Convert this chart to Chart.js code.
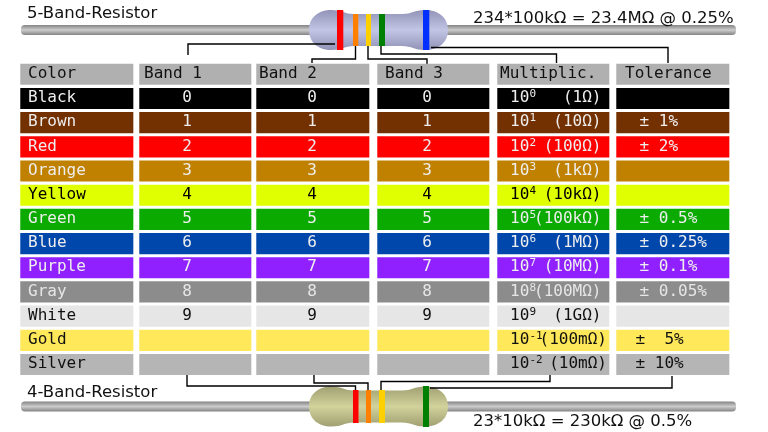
<!DOCTYPE html>
<html>
<head>
<meta charset="utf-8">
<style>
body { margin: 0; background: #fff; }
canvas { display: block; }
</style>
<script src="https://cdn.jsdelivr.net/npm/chart.js@4"></script>
</head>
<body>
<canvas id="myChart" width="768" height="432"></canvas>
<script>
// table contents
const rowNames = ['Color', 'Black', 'Brown', 'Red', 'Orange', 'Yellow', 'Green', 'Blue', 'Purple', 'Gray', 'White', 'Gold', 'Silver'];
const rowColors = ['#b0b0b0', '#000000', '#733000', '#ff0000', '#c08000', '#e0ff00', '#0aaa00', '#0047ab', '#9020ff', '#8c8c8c', '#e6e6e6', '#ffe85a', '#b5b5b5'];
const textColors = ['#111', '#eee', '#eee', '#eee', '#eee', '#000', '#eee', '#eee', '#eee', '#e6e6e6', '#111', '#111', '#111'];
const columnNames = ['Color', 'Band 1', 'Band 2', 'Band 3', 'Multiplic.', 'Tolerance'];
const bandDigits = ['0', '1', '2', '3', '4', '5', '6', '7', '8', '9', '', ''];
const multExponents = ['0', '1', '2', '3', '4', '5', '6', '7', '8', '9', '-1', '-2'];
const multValues = ['(1Ω)', '(10Ω)', '(100Ω)', '(1kΩ)', '(10kΩ)', '(100kΩ)', '(1MΩ)', '(10MΩ)', '(100MΩ)', '(1GΩ)', '(100mΩ)', '(10mΩ)'];
const tolerances = ['', '± 1%', '± 2%', '', '', '± 0.5%', '± 0.25%', '± 0.1%', '± 0.05%', '', '±  5%', '± 10%'];

// layout, in canvas pixels (the x scale and the yPx scale both run 1:1 with the canvas)
const colLeft = [20.6, 139.6, 256.6, 377.6, 497.6, 616.6];
const colRight = [133, 251, 369, 489, 609, 729];
const headerX = [28, 144, 259, 385, 500, 625];
const digitX = [187, 312, 427];
const plotTop = 62.2;
const plotBottom = 376.6;

const connectors = [
	[[335, 44], [188, 44], [188, 55]],
	[[355.5, 46], [355.5, 59], [312, 59], [312, 63]],
	[[368, 46], [368, 59], [427, 59], [427, 64]],
	[[381, 46], [381, 54], [556.5, 54], [556.5, 63]],
	[[431, 47.5], [668, 47.5], [668, 63]],
	[[187, 375], [187, 386], [355.5, 386], [355.5, 390]],
	[[314, 375], [314, 383], [368, 383], [368, 390]],
	[[381, 390], [381, 381.5], [550, 381.5], [550, 375]],
	[[430, 388], [672, 388], [672, 376]]
];

const resistors = [
	{ cy: 30, edge: '#9293b8', mid: '#c2c6e4', bands: [[337, 343.3, '#ff0000', 20], [353, 358.3, '#ff8000', 16], [366, 371, '#ffd000', 16], [379, 385, '#008000', 16], [423, 429.3, '#0030ff', 20]] },
	{ cy: 406.5, edge: '#a0a072', mid: '#d2d29c', bands: [[353, 358.5, '#ff0000', 16.5], [366, 371, '#ff8000', 16.5], [379, 385, '#ffd000', 16.5], [423, 429, '#008000', 20.5]] }
];

const labels = [
	{ text: '5-Band-Resistor', x: 27, y: 18 },
	{ text: '234*100kΩ = 23.4MΩ @ 0.25%', x: 473, y: 23 },
	{ text: '4-Band-Resistor', x: 27, y: 397 },
	{ text: '23*10kΩ = 230kΩ @ 0.5%', x: 473, y: 426 }
];

function drawBody(ctx, px, py, cy) {
	const p = (x, dy) => [px(x), py(cy + dy)];
	ctx.beginPath();
	ctx.moveTo(...p(309, 0));
	ctx.bezierCurveTo(...p(309, -13), ...p(319, -20), ...p(331, -20));
	ctx.bezierCurveTo(...p(343, -20), ...p(344, -16), ...p(354, -16));
	ctx.lineTo(...p(402, -16));
	ctx.bezierCurveTo(...p(412, -16), ...p(414, -20), ...p(425, -20));
	ctx.bezierCurveTo(...p(438, -20), ...p(448, -13), ...p(448, 0));
	ctx.bezierCurveTo(...p(448, 13), ...p(438, 20), ...p(425, 20));
	ctx.bezierCurveTo(...p(414, 20), ...p(412, 16), ...p(402, 16));
	ctx.lineTo(...p(354, 16));
	ctx.bezierCurveTo(...p(344, 16), ...p(343, 20), ...p(331, 20));
	ctx.bezierCurveTo(...p(319, 20), ...p(309, 13), ...p(309, 0));
	ctx.closePath();
}

const resistorPlugin = {
	id: 'resistorPlugin',
	beforeDatasetsDraw(chart) {
		const ctx = chart.ctx;
		const px = (v) => chart.scales.x.getPixelForValue(v);
		const py = (v) => chart.scales.yPx.getPixelForValue(v);
		ctx.save();
		resistors.forEach((r) => {
			// lead wire
			let g = ctx.createLinearGradient(0, py(r.cy - 5.5), 0, py(r.cy + 5.5));
			g.addColorStop(0, '#7c7c7c');
			g.addColorStop(0.5, '#cccccc');
			g.addColorStop(1, '#7c7c7c');
			ctx.fillStyle = g;
			ctx.beginPath();
			ctx.roundRect(px(21), py(r.cy - 5), px(736) - px(21), py(r.cy + 5) - py(r.cy - 5), 4);
			ctx.fill();
			// body
			g = ctx.createLinearGradient(0, py(r.cy - 20), 0, py(r.cy + 20));
			g.addColorStop(0, r.edge);
			g.addColorStop(0.5, r.mid);
			g.addColorStop(1, r.edge);
			ctx.fillStyle = g;
			drawBody(ctx, px, py, r.cy);
			ctx.fill();
			// colour bands
			r.bands.forEach((b) => {
				ctx.fillStyle = b[2];
				ctx.fillRect(px(b[0]), py(r.cy - b[3]), px(b[1]) - px(b[0]), py(r.cy + b[3]) - py(r.cy - b[3]));
			});
		});
		ctx.restore();
	}
};

const textPlugin = {
	id: 'textPlugin',
	afterDatasetsDraw(chart) {
		const ctx = chart.ctx;
		const px = (v) => chart.scales.x.getPixelForValue(v);
		const rowY = (i) => chart.scales.y.getPixelForValue(i) + 3.7;
		const mono = '16px "DejaVu Sans Mono"';
		ctx.save();
		ctx.textBaseline = 'alphabetic';
		ctx.font = '16.5px "DejaVu Sans"';
		ctx.fillStyle = '#111';
		labels.forEach((l) => ctx.fillText(l.text, px(l.x), chart.scales.yPx.getPixelForValue(l.y)));

		ctx.font = mono;
		columnNames.forEach((name, c) => ctx.fillText(name, px(headerX[c]), rowY(0)));

		for (let i = 0; i < 12; i++) {
			const y = rowY(i + 1);
			ctx.fillStyle = textColors[i + 1];
			ctx.textAlign = 'left';
			ctx.font = mono;
			ctx.fillText(rowNames[i + 1], px(28), y);
			ctx.textAlign = 'center';
			digitX.forEach((x) => ctx.fillText(bandDigits[i], px(x), y));
			ctx.textAlign = 'left';
			ctx.fillText('10', px(510), y);
			ctx.fillText(tolerances[i], px(i >= 10 ? 635.5 : 639.5), y);
			ctx.textAlign = 'right';
			ctx.fillText(multValues[i], px(i >= 10 ? 607 : 601.5), y);
			ctx.textAlign = 'left';
			ctx.font = '11px "DejaVu Sans Mono"';
			ctx.fillText(multExponents[i], px(529.5), y - 5);
		}
		ctx.restore();
	}
};

// one floating bar per table cell, one dataset per column
const cellDatasets = columnNames.map((name, c) => ({
	label: name,
	indexAxis: 'y',
	grouped: false,
	barThickness: 20.5,
	borderWidth: 0,
	xAxisID: 'x',
	yAxisID: 'y',
	backgroundColor: rowColors,
	data: rowNames.map(() => [colLeft[c], colRight[c]])
}));

const connectorDatasets = connectors.map((path, i) => ({
	type: 'line',
	label: 'connector ' + i,
	xAxisID: 'x',
	yAxisID: 'yPx',
	borderColor: '#000',
	borderWidth: 1.4,
	pointRadius: 0,
	tension: 0,
	fill: false,
	clip: false,
	data: path.map((pt) => ({ x: pt[0], y: pt[1] }))
}));

new Chart(document.getElementById('myChart').getContext('2d'), {
	type: 'bar',
	data: {
		labels: rowNames,
		datasets: cellDatasets.concat(connectorDatasets)
	},
	options: {
		responsive: false,
		animation: false,
		layout: { padding: { left: 0, right: 0, top: plotTop, bottom: 432 - plotBottom } },
		plugins: { legend: { display: false }, tooltip: { enabled: false } },
		scales: {
			x: { type: 'linear', min: 0, max: 768, offset: false, display: false },
			y: { type: 'category', labels: rowNames, offset: true, display: false },
			yPx: { type: 'linear', min: plotTop, max: plotBottom, reverse: true, offset: false, display: false }
		}
	},
	plugins: [resistorPlugin, textPlugin]
});
</script>
</body>
</html>
